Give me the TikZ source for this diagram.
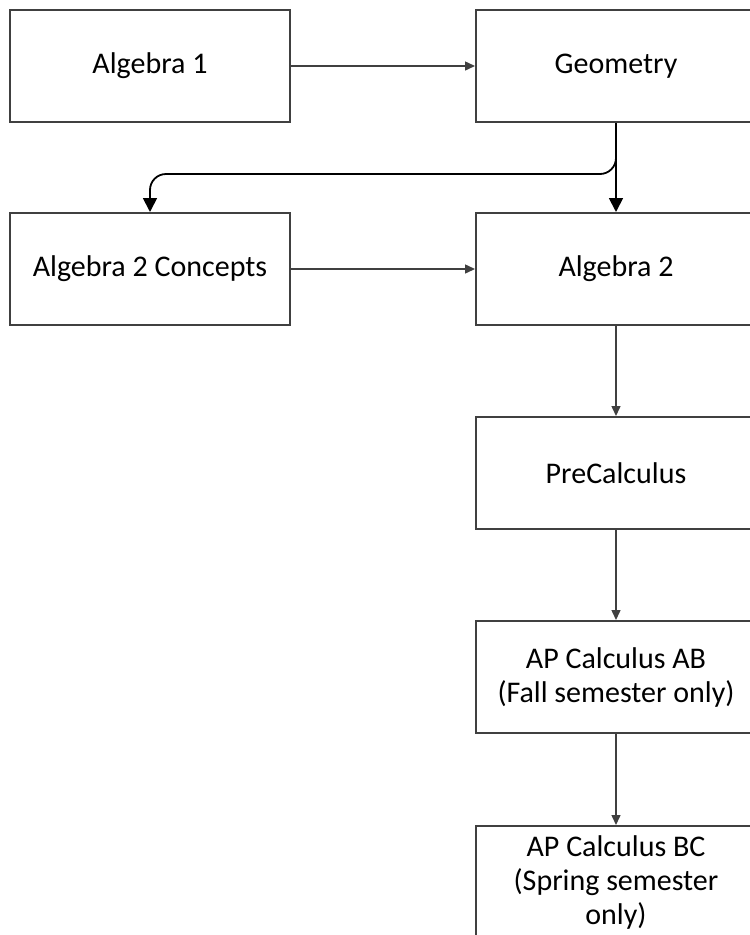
\documentclass[tikz,border=0pt]{standalone}
\usepackage{fontspec}
\setmainfont{Carlito}
\usetikzlibrary{arrows.meta}
\definecolor{linegray}{HTML}{404040}
\begin{document}
\begin{tikzpicture}[
    x=1pt, y=1pt,
    course/.style={rectangle, draw=linegray, line width=2pt, align=center, minimum width=280pt, minimum height=112pt, inner sep=0pt, font=\fontsize{30}{34}\selectfont},
    arrow/.style={-{Triangle[length=10pt, width=9pt]}, draw=linegray, fill=linegray, line width=1.5pt},
    bigarrow/.style={-{Triangle[length=14pt, width=14pt]}, draw=black, line width=1.8pt}
]
\useasboundingbox (0,0) rectangle (750,-935);
\node[course] (alg1) at (150,-66) {Algebra 1};
\node[course] (geom) at (616,-66) {Geometry};
\node[course] (concepts) at (150,-269) {Algebra 2 Concepts};
\node[course] (alg2) at (616,-269) {Algebra 2};
\node[course] (precalc) at (616,-473) {PreCalculus};
\node[course] (calcab) at (616,-677) {AP Calculus AB\\(Fall semester only)};
\node[course] (calcbc) at (616,-882) {AP Calculus BC\\(Spring semester\\only)};

\draw[arrow] (alg1) -- (geom);
\draw[bigarrow] (geom) -- (alg2);
\draw[bigarrow, rounded corners=16pt] (geom.south) -- ++(0,-51) -| (concepts.north);
\draw[arrow] (concepts) -- (alg2);
\draw[arrow] (alg2) -- (precalc);
\draw[arrow] (precalc) -- (calcab);
\draw[arrow] (calcab) -- (calcbc);
\end{tikzpicture}
\end{document}
